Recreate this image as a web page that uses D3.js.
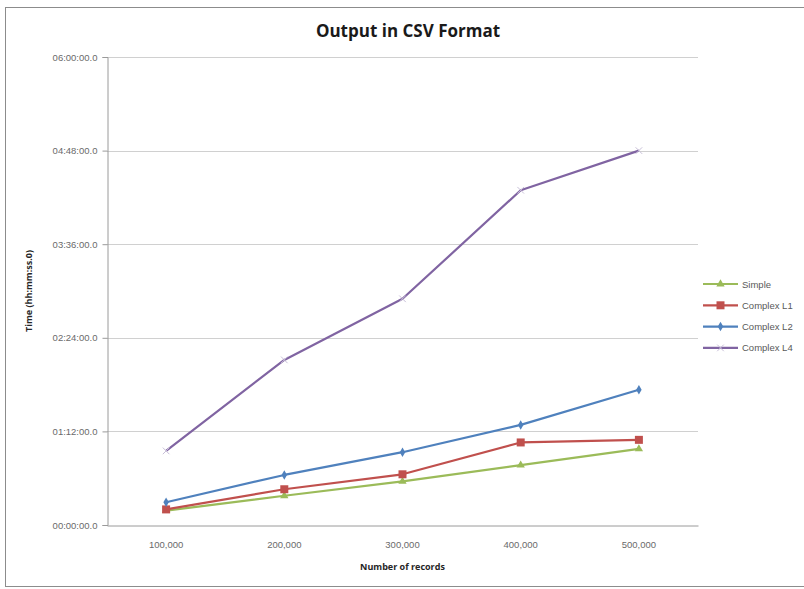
<!DOCTYPE html>
<html>
<head>
<meta charset="utf-8">
<script src="https://cdn.jsdelivr.net/npm/d3@7"></script>
<style>
  html, body { margin: 0; padding: 0; background: #ffffff; }
  svg { display: block; font-family: "Open Sans", "Liberation Sans", sans-serif; }
</style>
</head>
<body>
<svg id="chart" width="804" height="589"></svg>
<script>
// Record counts on the x axis
const categories = ["100,000", "200,000", "300,000", "400,000", "500,000"];

// Processing time per run, in minutes
const simple    = [11, 22.5, 33.5, 46, 58.5];
const complexL1 = [12, 27.5, 39, 63.5, 65.5];
const complexL2 = [17.5, 38.5, 56, 77, 104];
const complexL4 = [57, 127, 174, 257.5, 288];

const seriesNames = ["Simple", "Complex L1", "Complex L2", "Complex L4"];
const seriesColors = ["#9BBB59", "#C0504D", "#4F81BD", "#8064A2"];
const seriesMarkers = ["triangle", "square", "diamond", "cross"];
const seriesValues = [simple, complexL1, complexL2, complexL4];

// Y ticks every 72 minutes, 0 .. 6 hours
const yTicks = [0, 72, 144, 216, 288, 360];

const svg = d3.select("#chart");
const plot = { left: 107, right: 698, top: 57, bottom: 525 };

// Outer chart frame
svg.append("rect")
  .attr("x", 5.5).attr("y", 7.5)
  .attr("width", 810).attr("height", 579)
  .attr("fill", "#ffffff")
  .attr("stroke", "#8c8c8c").attr("stroke-width", 1);

const x = d3.scaleBand().domain(categories).range([plot.left, plot.right]).padding(0);
const y = d3.scaleLinear().domain([0, 360]).range([plot.bottom, plot.top]);

const fmt = m => {
  const h = Math.floor(m / 60), mm = Math.round(m % 60);
  return String(h).padStart(2, "0") + ":" + String(mm).padStart(2, "0") + ":00.0";
};

// Horizontal gridlines
svg.append("g")
  .selectAll("line")
  .data(yTicks.filter(t => t > 0))
  .join("line")
  .attr("x1", plot.left).attr("x2", plot.right)
  .attr("y1", d => Math.round(y(d)) + 0.5).attr("y2", d => Math.round(y(d)) + 0.5)
  .attr("stroke", "#d0d0d0").attr("stroke-width", 1.2);

// Y axis
const yAxis = svg.append("g")
  .attr("transform", `translate(${plot.left + 0.5},0)`)
  .call(d3.axisLeft(y).tickValues(yTicks).tickFormat(fmt).tickSize(5).tickPadding(5));
yAxis.select(".domain").attr("stroke", "#9a9a9a");
yAxis.selectAll(".tick line").attr("stroke", "#9a9a9a");
yAxis.selectAll(".tick text")
  .attr("fill", "#6a6a6a")
  .style("font-family", "'Liberation Sans', sans-serif")
  .style("font-size", "9.5px");

// X axis
const xAxis = svg.append("g")
  .attr("transform", `translate(0,${plot.bottom + 0.5})`)
  .call(d3.axisBottom(x).tickSize(0).tickPadding(16));
xAxis.select(".domain").attr("stroke", "#9a9a9a");
xAxis.selectAll(".tick text")
  .attr("fill", "#6a6a6a")
  .style("font-family", "'Liberation Sans', sans-serif")
  .style("font-size", "9.5px");

// Lines and markers
const line = d3.line()
  .x((d, i) => x(categories[i]) + x.bandwidth() / 2)
  .y(d => y(d));

const symbolFor = {
  triangle: d3.symbol().type(d3.symbolTriangle).size(30),
  square: d3.symbol().type(d3.symbolSquare).size(64),
  diamond: d3.symbol().type(d3.symbolDiamond).size(26),
  cross: d3.symbol().type(d3.symbolX).size(30)
};

seriesValues.forEach((vals, s) => {
  const g = svg.append("g");
  g.append("path")
    .datum(vals)
    .attr("d", line)
    .attr("fill", "none")
    .attr("stroke", seriesColors[s])
    .attr("stroke-width", 2.2)
    .attr("stroke-linejoin", "round");
  g.selectAll("path.mk")
    .data(vals)
    .join("path")
    .attr("class", "mk")
    .attr("transform", (d, i) => `translate(${x(categories[i]) + x.bandwidth() / 2},${y(d)})`)
    .attr("d", symbolFor[seriesMarkers[s]]())
    .attr("fill", seriesMarkers[s] === "cross" ? "none" : seriesColors[s])
    .attr("stroke", seriesMarkers[s] === "cross" ? "#c8bfd8" : "none")
    .attr("stroke-width", 1);
});

// Title
svg.append("text")
  .attr("x", 408).attr("y", 37)
  .attr("text-anchor", "middle")
  .attr("fill", "#1a1a1a")
  .style("font-size", "17px").style("font-weight", "bold")
  .text("Output in CSV Format");

// Axis titles
svg.append("text")
  .attr("transform", `translate(32,291) rotate(-90)`)
  .attr("text-anchor", "middle")
  .attr("fill", "#262626")
  .style("font-size", "9px").style("font-weight", "bold")
  .text("Time (hh:mm:ss.0)");

svg.append("text")
  .attr("x", (plot.left + plot.right) / 2).attr("y", 570)
  .attr("text-anchor", "middle")
  .attr("fill", "#262626")
  .style("font-size", "9px").style("font-weight", "bold")
  .text("Number of records");

// Legend
const legend = svg.append("g");
seriesNames.forEach((name, s) => {
  const ly = 284 + s * 21.3;
  legend.append("line")
    .attr("x1", 703).attr("x2", 738)
    .attr("y1", ly).attr("y2", ly)
    .attr("stroke", seriesColors[s]).attr("stroke-width", 2.2);
  legend.append("path")
    .attr("transform", `translate(720.5,${ly})`)
    .attr("d", symbolFor[seriesMarkers[s]]())
    .attr("fill", seriesMarkers[s] === "cross" ? "none" : seriesColors[s])
    .attr("stroke", seriesMarkers[s] === "cross" ? "#c8bfd8" : "none");
  legend.append("text")
    .attr("x", 742).attr("y", ly + 3.5)
    .attr("fill", "#595959")
    .style("font-family", "'Liberation Sans', sans-serif")
    .style("font-size", "9.5px")
    .text(name);
});
</script>
</body>
</html>
